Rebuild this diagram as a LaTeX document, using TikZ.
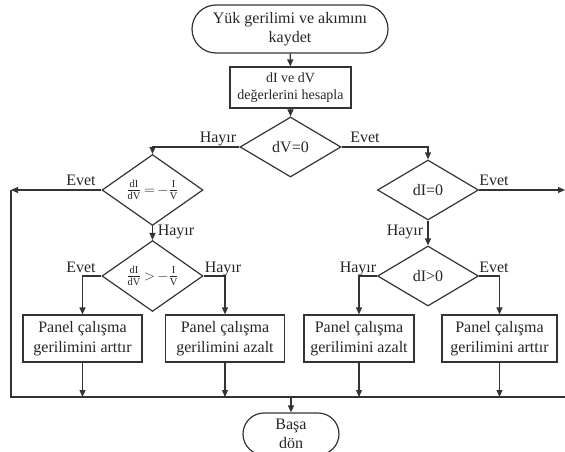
\documentclass[tikz,border=0pt]{standalone}
\usepackage{fontspec}
\setmainfont{Liberation Serif}
\usetikzlibrary{arrows.meta,shapes.geometric,shapes.misc}
\newcommand{\fr}[2]{\frac{\mathrm{#1}\vphantom{j}}{\mathrm{#2}\vphantom{d}}}
\begin{document}
\begin{tikzpicture}[x=1pt,y=-1pt,
 line/.style={draw=black!80, line width=1.2pt},
 arr/.style={line, -{Triangle[length=7pt,width=6pt]}},
 term/.style={rounded rectangle, line, align=center, inner sep=0pt, text=black!85, font=\fontsize{16}{19}\selectfont},
 proc/.style={rectangle, line, align=center, inner sep=0pt, text=black!85, font=\fontsize{16}{20}\selectfont, minimum height=47pt},
 dec/.style={diamond, line, inner sep=0pt, minimum width=101pt, minimum height=60pt, text=black!85, font=\fontsize{16}{19}\selectfont},
 frac/.style={dec, font=\fontsize{15}{17}\selectfont},
 lbl/.style={anchor=base, inner sep=0pt, font=\fontsize{16}{19}\selectfont, text=black!85}]
\useasboundingbox (0,0) rectangle (565,452);

\node[term, minimum width=196pt, minimum height=48pt] (start) at (290,29) {Yük gerilimi ve akımını\\kaydet};
\node[proc, minimum width=121pt, minimum height=41pt, font=\fontsize{14}{17}\selectfont] (calc) at (290.5,87.5) {dI ve dV\\değerlerini hesapla};
\node[dec] (dv) at (290.5,147) {dV=0};
\node[frac] (d2) at (152.5,190) {$\fr{dI}{dV}\,{=}\,{-}\fr{I}{V}$};
\node[frac] (d3) at (152.5,276) {$\fr{dI}{dV}\,{>}\,{-}\fr{I}{V}$};
\node[dec] (di) at (428,190) {dI=0};
\node[dec] (dg) at (428,276) {dI>0};

\node[proc, minimum width=119pt] (L1) at (82.5,338.5) {Panel çalışma\\gerilimini arttır};
\node[proc, minimum width=119pt] (L2) at (225,338.5) {Panel çalışma\\gerilimini azalt};
\node[proc, minimum width=110pt] (R1) at (359,338.5) {Panel çalışma\\gerilimini azalt};
\node[proc, minimum width=115pt] (R2) at (499.5,338.5) {Panel çalışma\\gerilimini arttır};

\node[term, minimum width=96pt, minimum height=42pt] (end) at (291,434) {Başa\\dön};

\coordinate (lrail) at (11,190);
\coordinate (rrail) at (565,190);
\coordinate (busL) at (11,397);
\coordinate (busR) at (566,397);

\draw[arr] (start) -- (calc);
\draw[arr] (calc) -- (dv);
\draw[arr] (dv.west) -| (d2.north);
\draw[arr] (dv.east) -| (di.north);
\draw[arr] (d2.west) -- (lrail);
\draw[arr] (di.east) -- (rrail);
\draw[line] (lrail) -- (busL) -- (busR);
\draw[arr] (d2.south) -- (d3.north);
\draw[arr] (di.south) -- (dg.north);
\draw[arr] (d3.west) -| (L1.north);
\draw[arr] (d3.east) -| (L2.north);
\draw[arr] (dg.west) -| (R1.north);
\draw[arr] (dg.east) -| (R2.north);
\foreach \b in {L1,L2,R1,R2} \draw[arr] (\b.south) -- (\b.south |- busL);
\draw[arr] (end.north |- busL) -- (end.north);

\node[lbl] (l1) at (218,142) {Hayır};
\node[lbl] (l2) at (365,142) {Evet};
\node[lbl] (l3) at (81,185) {Evet};
\node[lbl] (l4) at (176,235) {Hayır};
\node[lbl] (l5) at (81,272) {Evet};
\node[lbl] (l6) at (223,272) {Hayır};
\node[lbl] (l7) at (494,185) {Evet};
\node[lbl] (l8) at (405,235) {Hayır};
\node[lbl] (l9) at (358,272) {Hayır};
\node[lbl] (l10) at (494,272) {Evet};
\end{tikzpicture}
\end{document}
